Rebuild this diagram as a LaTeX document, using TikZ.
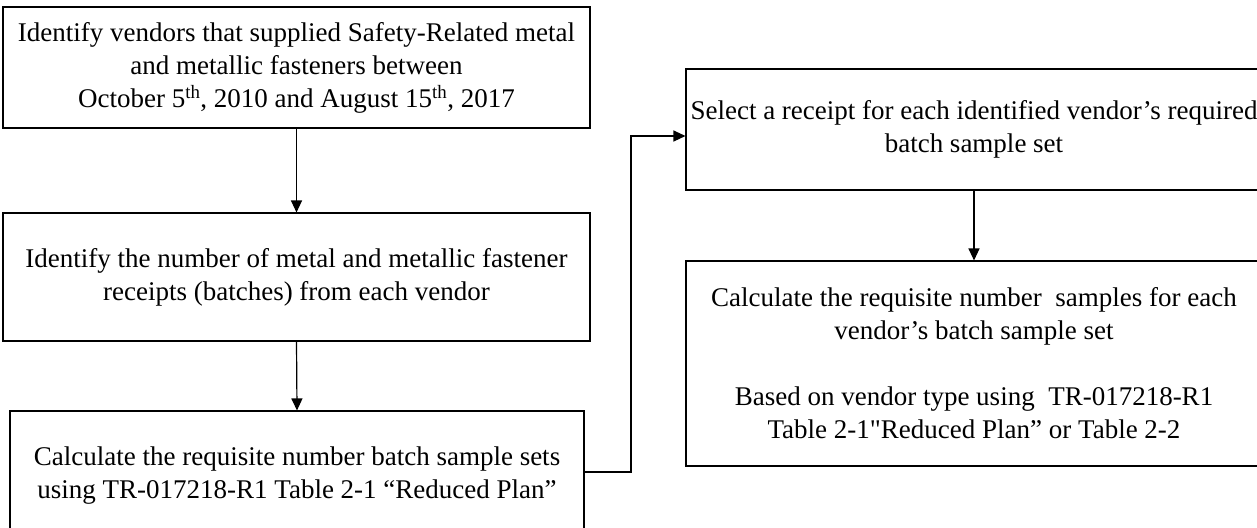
\documentclass[tikz,border=0pt]{standalone}
\usepackage{fontspec}
\setmainfont{Liberation Serif}
\newfontfamily\plainq{Liberation Serif}
\usetikzlibrary{arrows.meta}
\begin{document}
\begin{tikzpicture}[x=1pt,y=-1pt,
  box/.style={draw=black,line width=1.1pt,rectangle,align=center,inner sep=0pt,
    font=\fontsize{27}{33}\selectfont},
  arr/.style={draw=black,line width=1.2pt,-{Triangle[length=12pt,width=11pt]}}]
\clip (0,0) rectangle (1257,527);
\fill[white] (0,0) rectangle (1257,527);
\node[box,minimum width=587pt,minimum height=121pt] (b1) at (296.5,67.5)
  {Identify vendors that supplied Safety-Related metal\\and metallic fasteners between\\October 5\textsuperscript{th}, 2010 and August 15\textsuperscript{th}, 2017};
\node[box,minimum width=587pt,minimum height=128pt] (b2) at (296.5,277)
  {Identify the number of metal and metallic fastener\\receipts (batches) from each vendor};
\node[box,minimum width=574pt,minimum height=129pt] (b3) at (297,475.5)
  {Calculate the requisite number batch sample sets\\using TR-017218-R1 Table 2-1 “Reduced Plan”};
\node[box,minimum width=576pt,minimum height=121pt] (b4) at (974,129.5)
  {Select a receipt for each identified vendor’s required\\batch sample set};
\node[box,minimum width=576pt,minimum height=205pt] (b5) at (974,363.5)
  {Calculate the requisite number\ \ samples for each\\vendor’s batch sample set\\[33pt]Based on vendor type using\ \ TR-017218-R1\\Table 2-1{\plainq"}Reduced Plan” or Table 2-2};
\coordinate (c1) at (631,472);
\coordinate (c2) at (631,136);
\draw[arr] (b1.south) -- (b2.north);
\draw[arr] (b2.south) -- (b3.north);
\draw[arr] (b4.south) -- (b5.north);
\draw[arr] ([yshift=3.5pt]b3.east) -- (c1) -- (c2) -- (c2 -| b4.west);
\end{tikzpicture}
\end{document}
